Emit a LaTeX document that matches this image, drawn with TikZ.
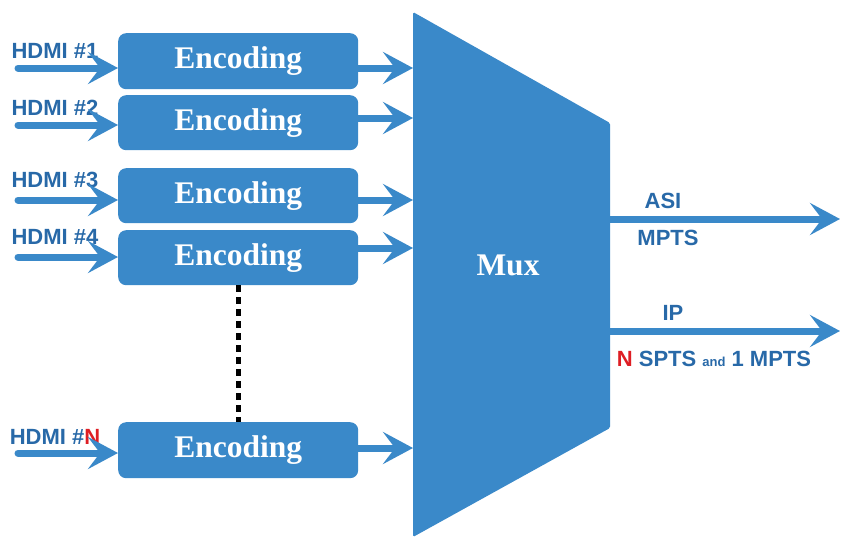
\documentclass[tikz,border=0pt]{standalone}
\usepackage{fontspec}
\setmainfont{Liberation Serif}
\newfontfamily\lblfont{Liberation Sans}
\usetikzlibrary{arrows.meta}
\definecolor{muxblue}{RGB}{58,137,201}
\definecolor{lblblue}{RGB}{40,105,168}
\definecolor{nred}{RGB}{222,30,36}
\tikzset{
  encbox/.style={fill=muxblue, rounded corners=8pt, minimum width=240pt, minimum height=56pt,
    inner sep=0pt, anchor=north west, text=white, font=\fontsize{31.5}{32}\selectfont\bfseries},
  hdmi/.style={text=lblblue, inner sep=0pt, font=\lblfont\fontsize{22}{24}\selectfont\bfseries},
  flow/.style={muxblue, line width=7pt, line cap=round, -{Stealth[length=30pt,width=32pt,inset=12pt]}},
  dotline/.style={line width=5pt, dash pattern=on 7pt off 5pt}
}
\begin{document}
\begin{tikzpicture}[x=1pt,y=-1pt]
\useasboundingbox (0,0) rectangle (841,539);
% mux block
\fill[muxblue, rounded corners=1.5pt] (413,12) -- (610,123) -- (610,428) -- (413,537) -- cycle;
\node[text=white, font=\fontsize{31.5}{33}\selectfont\bfseries] (mux) at (508,265) {Mux};
% encoders
\node[encbox] (enc1) at (118,33) {Encoding};
\node[encbox, minimum height=55pt] (enc2) at (118,95) {Encoding};
\node[encbox, minimum height=55pt] (enc3) at (118,168) {Encoding};
\node[encbox, minimum height=55pt] (enc4) at (118,230) {Encoding};
\node[encbox] (encN) at (118,422) {Encoding};
\draw[dotline] (enc4.south) -- (encN.north);
% inputs
\node[hdmi] (l1) at (55,51) {HDMI \#1};
\node[hdmi] (l2) at (55,108) {HDMI \#2};
\node[hdmi] (l3) at (55,180) {HDMI \#3};
\node[hdmi] (l4) at (55,237) {HDMI \#4};
\node[hdmi] (lN) at (55,437) {HDMI \#\textcolor{nred}{N}};
\coordinate (h1) at (18,68);
\coordinate (h2) at (18,125);
\coordinate (h3) at (18,200);
\coordinate (h4) at (18,257);
\coordinate (hN) at (18,453);
\coordinate (m1) at (413,68);
\coordinate (m2) at (413,118);
\coordinate (m3) at (413,200);
\coordinate (m4) at (413,248);
\coordinate (mN) at (413,448);
\foreach \i in {1,2,3,4,N} {
  \draw[flow] (h\i) -- (h\i -| enc\i.west);
  \draw[flow] (enc\i.east |- m\i) -- (m\i);
}
% outputs
\coordinate (asi0) at (610,219);
\coordinate (asi) at (840,219);
\coordinate (ip0) at (607,331);
\coordinate (ip) at (840,331);
\draw[flow] (asi0) -- (asi);
\draw[flow] (ip0) -- (ip);
\node[hdmi] (asil) at (663,201) {ASI};
\node[hdmi] (mptsl) at (668,238) {MPTS};
\node[hdmi] (ipl) at (673,313) {IP};
\node[hdmi] (ipl2) at (714,359) {\textcolor{nred}{N} SPTS {\fontsize{13}{14}\selectfont and} 1 MPTS};
\end{tikzpicture}
\end{document}
